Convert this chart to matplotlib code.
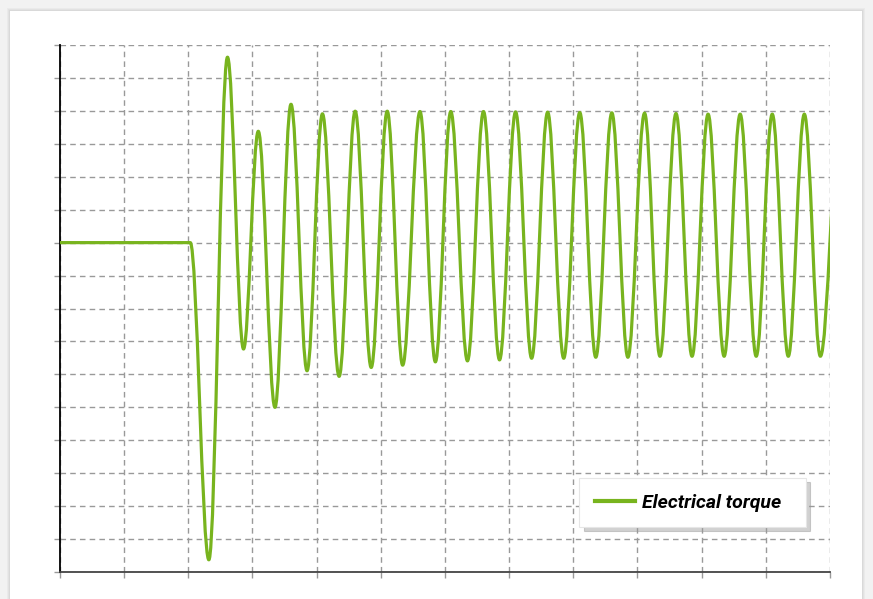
import matplotlib.pyplot as plt
from matplotlib.path import Path
from matplotlib.patches import PathPatch, Rectangle
from matplotlib.lines import Line2D
import numpy as np

# flat part before the fault
t_start = [0.0, 2.03]
torque_start = [0.0, 0.0]

# turning points of the oscillation (time, torque)
t_ext = [2.32, 2.61, 2.86, 3.09, 3.35, 3.60, 3.85, 4.09, 4.35, 4.60,
         4.85, 5.10, 5.34, 5.61, 5.85, 6.09, 6.35, 6.60, 6.85, 7.10,
         7.35, 7.60, 7.85, 8.10, 8.35, 8.60, 8.85, 9.11, 9.35, 9.60,
         9.85, 10.10, 10.35, 10.60, 10.85, 11.10, 11.35, 11.60, 11.85, 12.16]
torque_ext = [-9.63, 5.63, -3.23, 3.38, -5.00, 4.20, -3.89, 3.91, -4.06, 3.99,
              -3.79, 3.99, -3.72, 3.98, -3.62, 3.98, -3.59, 3.98, -3.56, 3.97,
              -3.51, 3.96, -3.51, 3.95, -3.48, 3.94, -3.48, 3.93, -3.45, 3.92,
              -3.45, 3.90, -3.45, 3.90, -3.45, 3.90, -3.45, 3.90, -3.45, 3.90]

green = '#78b41e'

fig = plt.figure(figsize=(8.73, 5.99), dpi=100)
fig.patch.set_facecolor('#f2f2f2')

# white card with soft shadow
for i, a in enumerate([0.03, 0.03, 0.04]):
    d = (3 - i) / 873
    fig.patches.append(Rectangle((10 / 873 - d, 0), 852 / 873 + 2 * d, (599 - 11) / 599 + d * 873 / 599,
                                 transform=fig.transFigure, facecolor='black', alpha=a,
                                 edgecolor='none', zorder=-3))
fig.patches.append(Rectangle((10 / 873, 0), 852 / 873, (599 - 11) / 599,
                             transform=fig.transFigure, facecolor='white',
                             edgecolor='none', zorder=-2))

ax = fig.add_axes([60 / 873, 27 / 599, 770 / 873, 527 / 599])
ax.set_facecolor('none')
ax.set_xlim(0, 12)
ax.set_ylim(-10, 6)
ax.set_xticks(np.arange(0, 13))
ax.set_yticks(np.arange(-10, 7))
ax.set_xticklabels([])
ax.set_yticklabels([])
ax.tick_params(length=4, color='#999999', width=1)
ax.grid(True, color='#999999', linewidth=1, linestyle=(0, (4, 3)))
ax.set_axisbelow(True)
for s in ['top', 'right']:
    ax.spines[s].set_visible(False)
ax.spines['left'].set_color('black')
ax.spines['left'].set_linewidth(1.3)
ax.spines['bottom'].set_color('#444444')
ax.spines['bottom'].set_linewidth(1.3)

# build the curve: straight flat part, then smooth half-waves between turning points
verts = [(t_start[0], torque_start[0]), (t_start[1], torque_start[1])]
codes = [Path.MOVETO, Path.LINETO]
k = 0.3634
px, py = t_start[1], torque_start[1]
for x, y in zip(t_ext, torque_ext):
    dx = x - px
    verts += [(px + k * dx, py), (x - k * dx, y), (x, y)]
    codes += [Path.CURVE4] * 3
    px, py = x, y
curve = PathPatch(Path(verts, codes), fill=False, edgecolor=green, linewidth=2.3,
                  capstyle='round', joinstyle='round', zorder=3)
ax.add_patch(curve)

handle = Line2D([], [], color=green, linewidth=3)
leg = ax.legend([handle], ['Electrical torque  '], loc='lower right',
                bbox_to_anchor=(0.969, 0.085), borderaxespad=0,
                prop={'family': 'Roboto', 'weight': 'bold',
                      'style': 'italic', 'size': 14},
                handlelength=2.05, handletextpad=0.36, borderpad=0.8,
                fancybox=False, framealpha=1,
                shadow={'ox': 3, 'oy': -3, 'color': '#999999', 'alpha': 0.45})
leg.get_frame().set_edgecolor('#e6e6e6')
leg.get_frame().set_linewidth(0.8)

fig.savefig('out.png', dpi=100, facecolor=fig.get_facecolor())
